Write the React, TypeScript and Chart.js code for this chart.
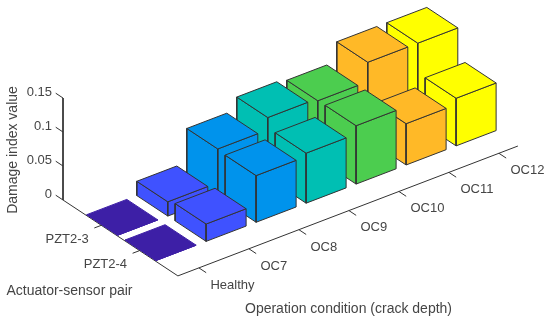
import React, { useEffect, useRef } from "react";
import { Chart, registerables } from "chart.js";

Chart.register(...registerables);

const conditions = ["Healthy", "OC7", "OC8", "OC9", "OC10", "OC11", "OC12"];
const pairs = ["PZT2-3", "PZT2-4"];
const pzt23Values = [0, 0.021, 0.0706, 0.0887, 0.0853, 0.1138, 0.1138];
const pzt24Values = [0, 0.0255, 0.0686, 0.0735, 0.0858, 0.0607, 0.07];
const barColors = ["#3d1fa6", "#3f52ff", "#0093ec", "#00bfb3", "#4ccd4f", "#ffb927", "#ffff00"];
const damageTicks = [0, 0.05, 0.1, 0.15];
const xTitle = "Operation condition (crack depth)";
const yTitle = "Actuator-sensor pair";
const zTitle = "Damage index value";

// Oblique view of the 3D box: how one step along each 3D axis moves on the two scales.
const W = 550;
const H = 322;
const ORIGIN_PX = { x: 63, y: 200 };
const PX_PER_COND = { x: 50, y: -19.1 };
const PX_PER_PAIR = { x: 38.3, y: 25.3 };
const PX_PER_X_UNIT = 50;
const PX_PER_VALUE = 680;
const COND_MIN = -0.42;
const COND_MAX = 6.38;
const PAIR_MAX = 3;
const BAR_HALF_W = 0.4;
const BAR_HALF_D = 0.405;
const EDGE = "#333333";
const TEXT = "#454545";
const FONT = "Liberation Sans";

const project = (c: number, p: number, v: number) => ({
  x: ((c - COND_MIN) * PX_PER_COND.x + p * PX_PER_PAIR.x) / PX_PER_X_UNIT,
  y: v - ((c - COND_MIN) * PX_PER_COND.y + p * PX_PER_PAIR.y) / PX_PER_VALUE,
});

const polyDataset = (pts: { x: number; y: number }[], fill: string, edge: string) => ({
  data: [...pts, pts[0]],
  showLine: true,
  fill: "shape",
  backgroundColor: fill,
  borderColor: edge,
  borderWidth: 1,
  pointRadius: 0,
  tension: 0,
  borderJoinStyle: "round",
});

const lineDataset = (pts: { x: number; y: number }[]) => ({
  data: pts,
  showLine: true,
  fill: false,
  borderColor: EDGE,
  borderWidth: 1,
  pointRadius: 0,
  tension: 0,
});

function barFaces(c: number, p: number, v: number, color: string) {
  const c0 = c - BAR_HALF_W;
  const c1 = c + BAR_HALF_W;
  const p0 = p - BAR_HALF_D;
  const p1 = p + BAR_HALF_D;
  const edge = v === 0 ? color : EDGE;
  return [
    polyDataset([project(c0, p0, 0), project(c0, p1, 0), project(c0, p1, v), project(c0, p0, v)], color, edge),
    polyDataset([project(c0, p1, 0), project(c1, p1, 0), project(c1, p1, v), project(c0, p1, v)], color, edge),
    polyDataset([project(c0, p0, v), project(c1, p0, v), project(c1, p1, v), project(c0, p1, v)], color, edge),
  ];
}

function buildDatasets() {
  const painted: any[] = [];
  // axes
  painted.push(
    lineDataset([
      project(COND_MIN, 0, damageTicks[damageTicks.length - 1]),
      project(COND_MIN, 0, 0),
      project(COND_MIN, PAIR_MAX, 0),
      project(COND_MAX, PAIR_MAX, 0),
    ])
  );
  damageTicks.forEach((t) => painted.push(lineDataset([project(COND_MIN, 0, t), project(COND_MIN, -0.19, t)])));
  conditions.forEach((_, i) => painted.push(lineDataset([project(i, PAIR_MAX, 0), project(i, PAIR_MAX + 0.19, 0)])));
  pairs.forEach((_, j) => painted.push(lineDataset([project(COND_MIN, j + 1, 0), project(COND_MIN - 0.14, j + 1, 0)])));
  // bars: far to near
  for (let i = conditions.length - 1; i >= 0; i--) {
    painted.push(...barFaces(i, 1, pzt23Values[i], barColors[i]));
    painted.push(...barFaces(i, 2, pzt24Values[i], barColors[i]));
  }
  return painted.reverse();
}

const textPlugin = {
  id: "obliqueText",
  afterDraw(chart: any) {
    const { ctx, scales } = chart;
    const px = (pt: { x: number; y: number }) => ({
      x: scales.x.getPixelForValue(pt.x),
      y: scales.y.getPixelForValue(pt.y),
    });
    ctx.save();
    ctx.fillStyle = TEXT;
    ctx.textBaseline = "middle";
    ctx.font = `13px "${FONT}"`;
    ctx.textAlign = "left";
    conditions.forEach((name, i) => {
      const a = px(project(i, PAIR_MAX, 0));
      ctx.fillText(name, a.x + 11.5, a.y + 17.3);
    });
    ctx.textAlign = "right";
    pairs.forEach((name, j) => {
      const a = px(project(COND_MIN, j + 1, 0));
      ctx.fillText(name, a.x - 12.5, a.y + 14);
    });
    ctx.font = `14px "${FONT}"`;
    ctx.textAlign = "center";
    ctx.fillText(xTitle, 348.5, 309);
    ctx.fillText(yTitle, 69.5, 290.7);
    ctx.translate(13, 150);
    ctx.rotate(-Math.PI / 2);
    ctx.fillText(zTitle, 0, 0);
    ctx.restore();
  },
};

export default function App() {
  const ref = useRef<HTMLCanvasElement>(null);
  useEffect(() => {
    const chart = new Chart(ref.current as HTMLCanvasElement, {
      type: "scatter",
      data: { datasets: buildDatasets() as any },
      options: {
        animation: false,
        responsive: false,
        layout: { padding: 0 },
        plugins: { legend: { display: false }, tooltip: { enabled: false }, title: { display: false } },
        scales: {
          x: {
            type: "linear",
            display: false,
            min: -ORIGIN_PX.x / PX_PER_X_UNIT,
            max: (W - ORIGIN_PX.x) / PX_PER_X_UNIT,
          },
          y: {
            type: "linear",
            position: { x: -0.22 },
            min: -(H - ORIGIN_PX.y) / PX_PER_VALUE,
            max: ORIGIN_PX.y / PX_PER_VALUE,
            afterBuildTicks: (axis: any) => {
              axis.ticks = damageTicks.map((value) => ({ value }));
            },
            afterFit: (axis: any) => {
              axis.paddingTop = 0;
              axis.paddingBottom = 0;
            },
            grid: { display: false, drawTicks: false },
            border: { display: false },
            ticks: {
              autoSkip: false,
              color: TEXT,
              font: { family: FONT, size: 13 },
              labelOffset: -6,
              padding: 0,
              callback: (v: any) => String(v),
            },
          },
        },
      } as any,
      plugins: [textPlugin],
    });
    return () => chart.destroy();
  }, []);
  return (
    <div style={{ position: "absolute", left: 0, top: 0, width: W, height: H, background: "#fff" }}>
      <canvas ref={ref} width={W} height={H} style={{ display: "block" }} />
    </div>
  );
}
